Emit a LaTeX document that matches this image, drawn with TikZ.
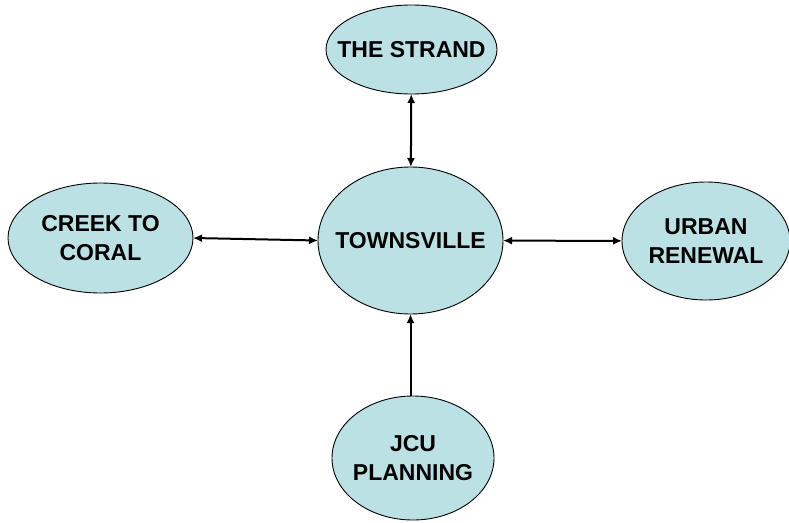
\documentclass[tikz,border=0pt]{standalone}
\usepackage{fontspec}
\setmainfont{Liberation Sans}
\usetikzlibrary{shapes.geometric,arrows.meta}
\definecolor{bubble}{RGB}{188,225,229}
\begin{document}
\begin{tikzpicture}[x=1pt,y=-1pt,
  topic/.style={ellipse,draw=black,line width=0.9pt,fill=bubble,inner sep=0pt,outer sep=0pt,
    label={[align=center,font=\fontsize{23}{29}\selectfont\bfseries]center:#1}},
  link/.style={line width=2pt,{Latex[length=9pt,width=8pt]}-{Latex[length=9pt,width=8pt]}},
  feed/.style={line width=2pt,-{Latex[length=9pt,width=8pt]}}]
\useasboundingbox[fill=white] (0,0) rectangle (789,522);
\node[topic={THE STRAND},minimum width=171pt,minimum height=89pt] (strand) at (411.5,49.5) {};
\node[topic={TOWNSVILLE},minimum width=185pt,minimum height=147pt] (town) at (410.5,240.5) {};
\node[topic={CREEK TO\\CORAL},minimum width=185pt,minimum height=110pt] (creek) at (100.5,238) {};
\node[topic={URBAN\\RENEWAL},minimum width=168pt,minimum height=118pt] (urban) at (706,241) {};
\node[topic={JCU\\PLANNING},minimum width=162pt,minimum height=124pt] (jcu) at (413,458) {};
\draw[link] (strand) -- (town);
\draw[link] (creek.east) -- (town.west);
\draw[link] (town) -- (urban);
\draw[feed] (jcu.north -| town.south) -- (town.south);
\end{tikzpicture}
\end{document}
